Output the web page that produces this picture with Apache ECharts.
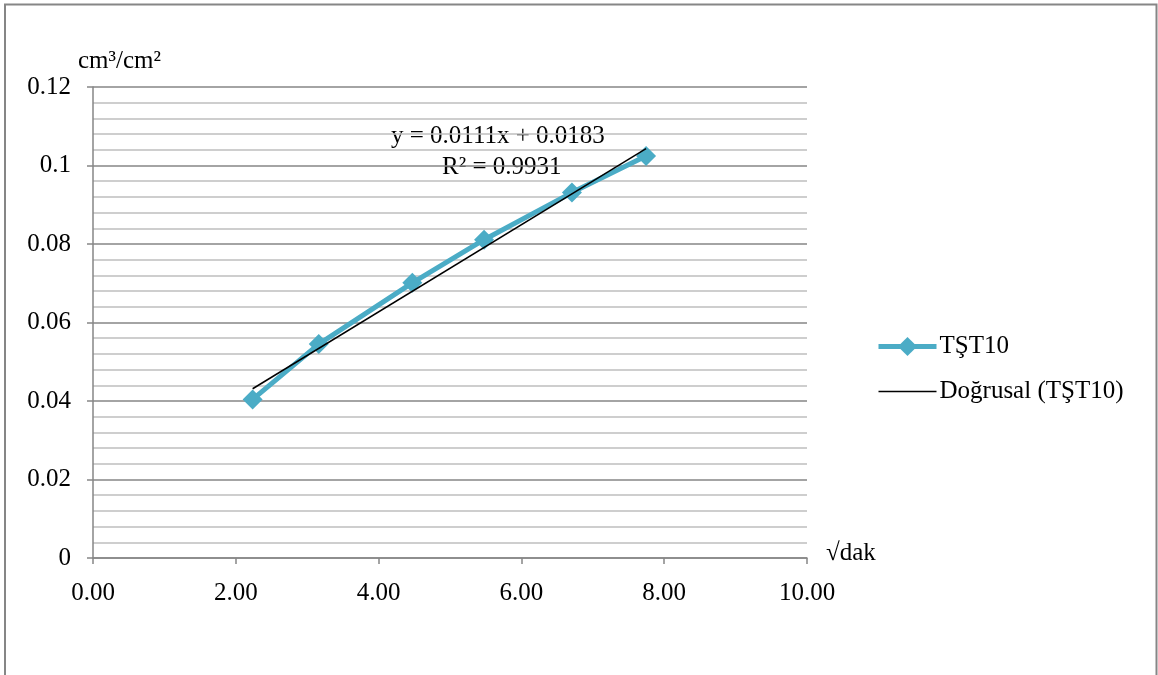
<!DOCTYPE html>
<html>
<head>
<meta charset="utf-8">
<script src="https://cdn.jsdelivr.net/npm/echarts@6/dist/echarts.min.js"></script>
<style>
  html, body { margin: 0; padding: 0; background: #fff; }
  #chart { width: 1158px; height: 675px; }
</style>
</head>
<body>
<div id="chart"></div>
<script>
// Sorption measurements: cumulative volume per area vs square root of time
const seriesName = 'TŞT10';
const trendName = 'Doğrusal (TŞT10)';
const sqrtMinutes = [2.236, 3.162, 4.472, 5.477, 6.708, 7.746];
const volumePerArea = [0.0404, 0.0545, 0.0701, 0.0811, 0.0931, 0.1024];

// Linear fit as reported in the annotation
const fitSlope = 0.0111;
const fitIntercept = 0.0183;
const fitR2 = 0.9931;

const xTicks = [0, 2, 4, 6, 8, 10];
const yTicks = [0, 0.02, 0.04, 0.06, 0.08, 0.1, 0.12];

const serif = '"Liberation Serif", "DejaVu Serif", serif';
const fs = 25;
const accent = '#4BACC6';
const gridGrey = '#868686';

const xFirst = sqrtMinutes[0];
const xLast = sqrtMinutes[sqrtMinutes.length - 1];
const trendData = [
  [xFirst, fitSlope * xFirst + fitIntercept],
  [xLast, fitSlope * xLast + fitIntercept]
];

const chart = echarts.init(document.getElementById('chart'));

chart.setOption({
  backgroundColor: '#ffffff',
  animation: false,
  grid: { left: 93, right: 351, top: 87, bottom: 117 },
  xAxis: {
    type: 'value',
    min: xTicks[0],
    max: xTicks[xTicks.length - 1],
    interval: 2,
    axisLine: { show: true, lineStyle: { color: gridGrey, width: 1.5 } },
    axisTick: { show: true, length: 6, lineStyle: { color: gridGrey, width: 1.5 } },
    axisLabel: {
      margin: 23,
      color: '#000',
      fontFamily: serif,
      fontSize: fs,
      formatter: v => v.toFixed(2)
    },
    splitLine: { show: false }
  },
  yAxis: {
    type: 'value',
    min: yTicks[0],
    max: yTicks[yTicks.length - 1],
    interval: 0.02,
    axisLine: { show: true, lineStyle: { color: gridGrey, width: 1.5 } },
    axisTick: { show: true, length: 6, lineStyle: { color: gridGrey, width: 1.5 } },
    axisLabel: {
      margin: 22,
      color: '#000',
      fontFamily: serif,
      fontSize: fs,
      formatter: v => String(parseFloat(v.toFixed(2)))
    },
    splitLine: { show: true, lineStyle: { color: gridGrey, width: 1.5 } },
    minorTick: { show: false, splitNumber: 5 },
    minorSplitLine: { show: true, lineStyle: { color: '#bfbfbf', width: 1.5 } }
  },
  legend: {
    orient: 'vertical',
    left: 876,
    top: 334,
    padding: 0,
    itemWidth: 58,
    itemHeight: 24,
    itemGap: 20,
    textStyle: { fontFamily: serif, fontSize: fs, color: '#000', padding: [0, 0, 0, -2] },
    data: [
      { name: seriesName, lineStyle: { width: 5, color: accent } },
      { name: trendName, itemStyle: { color: 'rgba(0,0,0,0)', borderWidth: 0 }, lineStyle: { width: 1.5, color: '#000' } }
    ]
  },
  series: [
    {
      name: seriesName,
      type: 'line',
      data: sqrtMinutes.map((x, i) => [x, volumePerArea[i]]),
      lineStyle: { color: accent, width: 5 },
      itemStyle: { color: accent },
      symbol: 'diamond',
      symbolSize: 20,
      z: 2
    },
    {
      name: trendName,
      type: 'line',
      data: trendData,
      lineStyle: { color: '#000', width: 1.5 },
      itemStyle: { color: '#000' },
      symbol: 'none',
      z: 3
    }
  ],
  graphic: [
    {
      type: 'polyline',
      shape: { points: [[5, 675], [5, 4.5], [1156.5, 4.5], [1156.5, 675]] },
      style: { stroke: gridGrey, lineWidth: 2, fill: null }
    },
    {
      type: 'text', left: 78, top: 49,
      style: { text: 'cm³/cm²', font: fs + 'px ' + serif, fill: '#000' }
    },
    {
      type: 'text', left: 826, top: 541,
      style: { text: '√dak', font: fs + 'px ' + serif, fill: '#000' }
    },
    {
      type: 'text', left: 391, top: 124,
      style: {
        text: 'y = ' + fitSlope + 'x + ' + fitIntercept,
        font: fs + 'px ' + serif, fill: '#000'
      }
    },
    {
      type: 'text', left: 442, top: 155,
      style: { text: 'R² = ' + fitR2, font: fs + 'px ' + serif, fill: '#000' }
    }
  ]
});
</script>
</body>
</html>
